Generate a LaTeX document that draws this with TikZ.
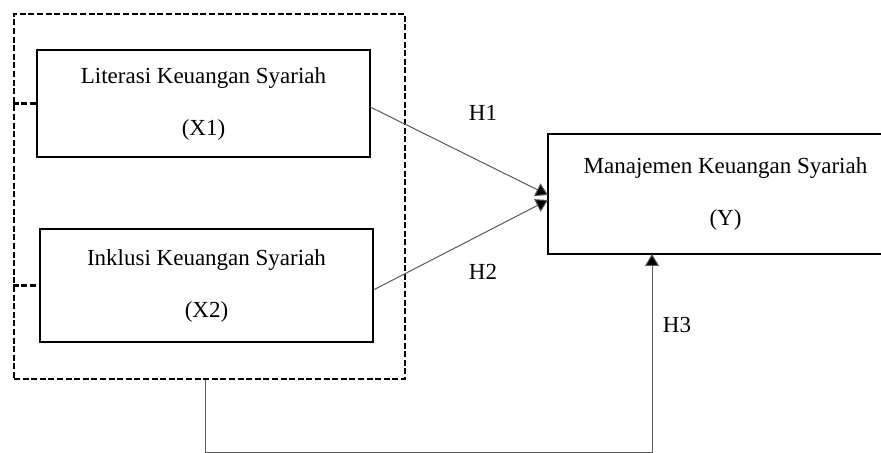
\documentclass[tikz,border=0pt]{standalone}
\usepackage{fontspec}
\setmainfont{Liberation Serif}
\usetikzlibrary{arrows.meta}
\begin{document}
\begin{tikzpicture}[x=0.5pt, y=-0.5pt,
    var/.style={draw=black, line width=1.3pt, minimum width=166.5pt, align=center, font=\fontsize{11.5}{13}\selectfont, inner sep=0pt},
    group/.style={draw=black, dash pattern=on 3pt off 1.3pt, line width=1.3pt, minimum width=195.5pt, minimum height=182.5pt, inner sep=0pt},
    stub/.style={draw=black, dash pattern=on 3pt off 1.3pt, line width=1.3pt},
    frame/.style={draw=black, line width=1.3pt},
    link/.style={draw=black!65, line width=0.5pt},
    tip/.style={-{Triangle[length=6pt, width=7pt, fill=black]}},
    lbl/.style={font=\fontsize{11.5}{13}\selectfont}]
        \useasboundingbox (0,0) rectangle (881,453);

        % Gruppo delle variabili indipendenti
        \node[group] (grp) at (209.5,196.5) {};

        % Variabili
        \node[var, minimum height=53.5pt] (X1) at (203.5,103.5) {Literasi Keuangan Syariah\\[13pt](X1)};
        \node[var, minimum height=56.5pt] (X2) at (206.5,285.5) {Inklusi Keuangan Syariah\\[13pt](X2)};
        \node[var, draw=none, outer sep=0pt, minimum height=60pt] (Y) at (714.5,194) {\hspace*{11pt}Manajemen Keuangan Syariah\\[13pt]\hspace*{11pt}(Y)};
        % bordo destro tagliato dall'immagine
        \draw[frame] (Y.north east) -- (Y.north west) -- (Y.south west) -- (Y.south east);

        % Collegamenti tratteggiati al gruppo
        \draw[stub] (grp.west |- X1.west) -- (X1.west);
        \draw[stub] (grp.west |- X2.west) -- (X2.west);

        % Ipotesi H1 e H2
        \draw[link, tip] ([yshift=-2pt]X1.east) -- ([yshift=-0.5pt]Y.west);
        \draw[link, tip] ([yshift=-2pt]X2.east) -- ([yshift=-3pt]Y.west);
        \node[lbl] (h1) at (483,113) {H1};
        \node[lbl] (h2) at (483,272) {H2};

        % Ipotesi H3 dal gruppo
        \coordinate (turn) at (652,452);
        \draw[link, tip] ([xshift=-2.25pt]grp.south) |- (turn) -- (turn |- Y.south);
        \node[lbl] (h3) at (677,325) {H3};
\end{tikzpicture}
\end{document}
